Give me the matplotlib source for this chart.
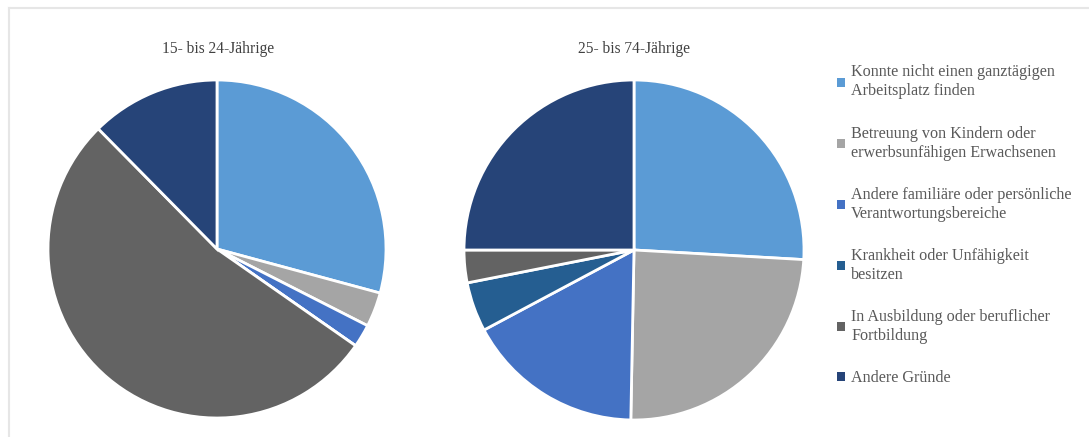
import matplotlib.pyplot as plt
from matplotlib.lines import Line2D

# Gründe für Teilzeitarbeit nach Altersgruppe (Anteile in %)
gruende = [
    "Konnte nicht einen ganztägigen\nArbeitsplatz finden",
    "Betreuung von Kindern oder\nerwerbsunfähigen Erwachsenen",
    "Andere familiäre oder persönliche\nVerantwortungsbereiche",
    "Krankheit oder Unfähigkeit\nbesitzen",
    "In Ausbildung oder beruflicher\nFortbildung",
    "Andere Gründe",
]
anteile_15_24 = [29.2, 3.3, 2.2, 0.0, 52.9, 12.4]
anteile_25_74 = [25.9, 24.4, 16.9, 4.7, 3.1, 25.0]
titel = ["15- bis 24-Jährige", "25- bis 74-Jährige"]

farben = ["#5B9BD5", "#A5A5A5", "#4472C4", "#255E91", "#636363", "#264478"]

plt.rcParams["font.family"] = ["Liberation Serif", "DejaVu Serif"]

W, H = 1089, 437
fig = plt.figure(figsize=(W / 100, H / 100), dpi=100)

# dünner grauer Rahmen oben und links
fig.add_artist(Line2D([9 / W, 9 / W], [0, 1 - 8 / H], color="#E6E6E6", lw=1.5))
fig.add_artist(Line2D([9 / W, 1], [1 - 8 / H, 1 - 8 / H], color="#E6E6E6", lw=1.5))


def pie_axes(cx, cy, r, werte):
    ax = fig.add_axes([(cx - r) / W, (H - cy - r) / H, 2 * r / W, 2 * r / H])
    ax.pie(werte, colors=farben, startangle=90, counterclock=False, radius=1,
           wedgeprops=dict(edgecolor="white", linewidth=2))
    ax.set_xlim(-1, 1)
    ax.set_ylim(-1, 1)
    ax.set_aspect("equal")
    ax.axis("off")
    return ax


ax1 = pie_axes(217, 249, 169, anteile_15_24)
ax2 = pie_axes(634, 250, 170, anteile_25_74)

fig.text(218 / W, 1 - 49 / H, titel[0], ha="center", va="center",
         fontsize=11.2, color="#404040")
fig.text(634 / W, 1 - 49 / H, titel[1], ha="center", va="center",
         fontsize=11.2, color="#404040")

handles = [plt.Rectangle((0, 0), 1, 1, facecolor=c, edgecolor="none") for c in farben]
leg = fig.legend(handles, gruende, loc="upper left",
                 bbox_to_anchor=(831 / W, 1 - 58 / H), frameon=False,
                 fontsize=11.6, labelcolor="#595959", handlelength=0.45,
                 handleheight=0.45, handletextpad=0.4, labelspacing=1.62,
                 borderaxespad=0)
for t in leg.get_texts():
    t.set_linespacing(1.25)

fig.savefig("out.png", dpi=100)
